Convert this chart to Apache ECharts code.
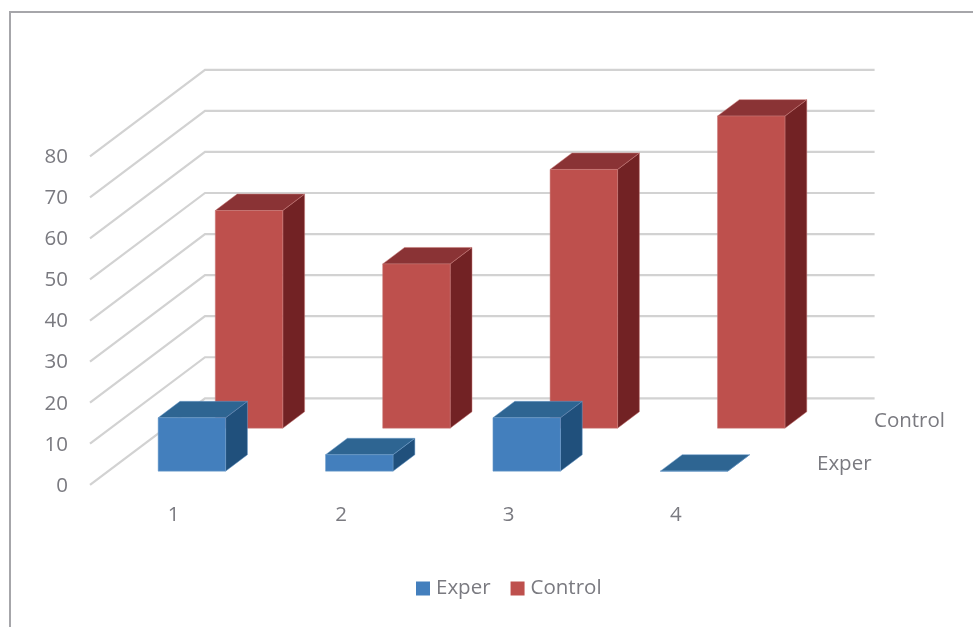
<!DOCTYPE html>
<html>
<head>
<meta charset="utf-8">
<style>
  html, body { margin: 0; padding: 0; background: #ffffff; }
  #chart { width: 973px; height: 627px; }
</style>
<script src="https://cdn.jsdelivr.net/npm/echarts@6/dist/echarts.min.js"></script>
</head>
<body>
<div id="chart"></div>
<script>
// Chart values
const categories = ['1', '2', '3', '4'];
const experValues = [13, 4, 13, 0];
const controlValues = [53, 40, 63, 76];
const valueTicks = [0, 10, 20, 30, 40, 50, 60, 70, 80];

// Oblique projection: how far the back of the plot sits from the front plane
const DEPTH_X = 115;
const DEPTH_Y = -86.5;
const BAR_RATIO = 0.403;
const BAR_DEPTH = 0.19;
const TEXT_COLOR = '#7a7a80';
const FONT = '"Open Sans", sans-serif';
const FONT_SIZE = 20.5;

function shift(pt, d) {
  return [pt[0] + DEPTH_X * d, pt[1] + DEPTH_Y * d];
}

// Floor and wall lines: one bent line per value tick
function renderWallLine(params, api) {
  const cs = params.coordSys;
  const y = api.coord([0, api.value(0)])[1];
  const front = [cs.x, y];
  const back = shift(front, 1);
  return {
    type: 'polyline',
    shape: { points: [front, back, [cs.x + cs.width + DEPTH_X, back[1]]] },
    style: { stroke: '#d2d2d2', lineWidth: 2.2, fill: null }
  };
}

// A box standing at a given depth, built from the axis scales
function boxRenderer(depth, colors) {
  return function (params, api) {
    const base = api.coord([api.value(0), 0]);
    const top = api.coord([api.value(0), api.value(1)]);
    const w = api.size([1, 0])[0] * BAR_RATIO;
    const bl = shift([base[0] - w / 2, base[1]], depth);
    const br = shift([base[0] + w / 2, base[1]], depth);
    const tl = shift([top[0] - w / 2, top[1]], depth);
    const tr = shift([top[0] + w / 2, top[1]], depth);
    const face = (points, color) => ({
      type: 'polygon',
      shape: { points },
      style: { fill: color, stroke: colors.edge, lineWidth: 0.5 }
    });
    return {
      type: 'group',
      children: [
        face([tr, shift(tr, BAR_DEPTH), shift(br, BAR_DEPTH), br], colors.side),
        face([tl, shift(tl, BAR_DEPTH), shift(tr, BAR_DEPTH), tr], colors.top),
        face([tl, tr, br, bl], colors.front)
      ]
    };
  };
}

const chart = echarts.init(document.getElementById('chart'), null, { renderer: 'canvas' });

const blue = { front: '#437fbd', side: '#20507c', top: '#2e6592', edge: '#6e9dcb' };
const red = { front: '#be504d', side: '#722224', top: '#8a3335', edge: '#c97b78' };

chart.setOption({
  animation: false,
  backgroundColor: '#ffffff',
  textStyle: { fontFamily: FONT },
  grid: { left: 90, top: 156.3, width: 669.6, height: 328.5 },
  xAxis: {
    type: 'category',
    data: categories,
    axisLine: { show: false },
    axisTick: { show: false },
    splitLine: { show: false },
    axisLabel: { color: TEXT_COLOR, fontSize: FONT_SIZE, fontFamily: FONT, margin: 20 }
  },
  yAxis: {
    type: 'value',
    min: 0,
    max: 80,
    interval: 10,
    axisLine: { show: false },
    axisTick: { show: false },
    splitLine: { show: false },
    axisLabel: {
      color: TEXT_COLOR, fontSize: FONT_SIZE, fontFamily: FONT, margin: 22,
      verticalAlign: 'top', lineHeight: 2
    }
  },
  legend: {
    data: ['Exper', 'Control'],
    left: 411,
    top: 573,
    icon: 'rect',
    itemWidth: 14,
    itemHeight: 14,
    itemGap: 20,
    textStyle: { color: TEXT_COLOR, fontSize: FONT_SIZE, fontFamily: FONT, padding: [0, 0, 0, 1] }
  },
  series: [
    {
      type: 'custom',
      name: 'wall',
      silent: true,
      renderItem: renderWallLine,
      encode: { y: 0 },
      data: valueTicks.map(v => [v])
    },
    {
      type: 'custom',
      name: 'Control',
      renderItem: boxRenderer(0.655, red),
      itemStyle: { color: '#be504d' },
      encode: { x: 0, y: 1 },
      data: controlValues.map((v, i) => [i, v])
    },
    {
      type: 'custom',
      name: 'Exper',
      renderItem: boxRenderer(0.158, blue),
      itemStyle: { color: '#437fbd' },
      encode: { x: 0, y: 1 },
      data: experValues.map((v, i) => [i, v])
    }
  ],
  graphic: [
    // Chart frame: only its left and top edges fall inside the window
    {
      type: 'polyline',
      silent: true,
      shape: { points: [[10, 627], [10, 12], [973, 12]] },
      style: { stroke: '#a6a6aa', lineWidth: 2, fill: null }
    },
    // Depth axis names
    {
      type: 'text', left: 874, top: 411, silent: true,
      style: { text: 'Control', fill: TEXT_COLOR, font: FONT_SIZE + 'px ' + FONT }
    },
    {
      type: 'text', left: 817, top: 454, silent: true,
      style: { text: 'Exper', fill: TEXT_COLOR, font: FONT_SIZE + 'px ' + FONT }
    }
  ]
});
</script>
</body>
</html>
